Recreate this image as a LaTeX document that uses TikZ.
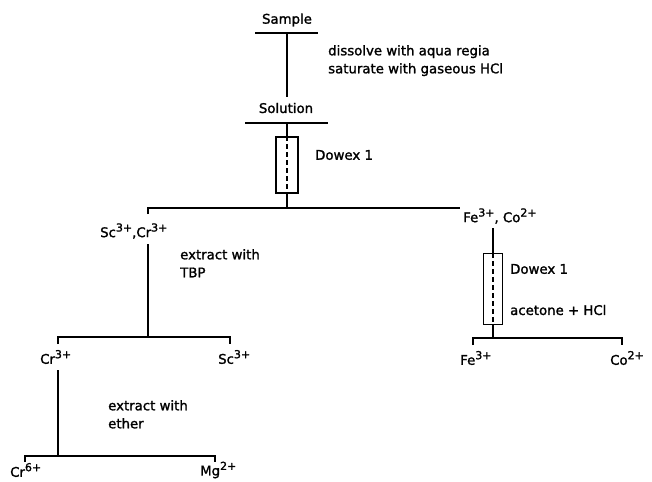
\documentclass[tikz,border=0pt]{standalone}
\usepackage{fontspec}
\setmainfont[FakeBold=1.5]{DejaVu Sans}
\newcommand{\sps}[1]{\raisebox{0.42em}{\fontsize{11}{11}\selectfont #1}}
\begin{document}
\begin{tikzpicture}[x=1pt,y=-1pt,
  ln/.style={line width=1.3pt},
  lbl/.style={font=\fontsize{13.3}{18}\selectfont, inner sep=0pt},
  note/.style={lbl, anchor=north west, align=left},
  col/.style={draw, line width=1.1pt, inner sep=0pt}]
\useasboundingbox (0,0) rectangle (652,481);

% top
\node[lbl] (sample) at (287,20) {Sample};
\coordinate (sL) at (255,33); \coordinate (sR) at (318,33); \coordinate (sM) at (287,33);
\draw[ln] (sL) -- (sR);
\node[note] (n1) at (328,45) {dissolve with aqua regia\\saturate with gaseous HCl};
\node[lbl] (solution) at (286,108) {Solution};
\coordinate (oL) at (245,123); \coordinate (oR) at (328,123); \coordinate (oM) at (287,123);
\draw[ln] (oL) -- (oR);
\coordinate (sB) at (287,97);
\draw[ln] (sM) -- (sB);
\node[col, minimum width=22pt, minimum height=56pt] (col1) at (287,165) {};
\draw[ln, dashed, dash pattern=on 5pt off 3pt] (col1.north) -- (col1.south);
\draw[ln] (oM) -- (col1.north);
\node[lbl, anchor=west] (dw1) at (315,155) {Dowex 1};
\coordinate (j1) at (287,208);
\draw[ln] (col1.south) -- (j1);
\coordinate (j1L) at (148,208); \coordinate (j1R) at (460,208);
\draw[ln] (j1L |- 0,214) -- (j1L) -- (j1R);

% left branch
\node[lbl, anchor=west] (sccr) at (100,231) {Sc\sps{3+},Cr\sps{3+}};
\node[note] (n2) at (180,249) {extract with\\TBP};
\coordinate (v2t) at (148,244); \coordinate (j2) at (148,337);
\draw[ln] (v2t) -- (j2);
\coordinate (j2L) at (58,337); \coordinate (j2R) at (230,337);
\draw[ln] (58,344) -- (j2L) -- (j2R) -- (230,344);
\node[lbl, anchor=west] (cr3) at (40,357) {Cr\sps{3+}};
\node[lbl, anchor=west] (sc3) at (218,357) {Sc\sps{3+}};
\coordinate (v3t) at (58,370); \coordinate (j3) at (58,456);
\draw[ln] (v3t) -- (j3);
\node[note] (n3) at (108,400) {extract with\\ether};
\coordinate (j3L) at (25,456); \coordinate (j3R) at (215,456);
\draw[ln] (25,462) -- (j3L) -- (j3R) -- (215,462);
\node[lbl, anchor=west] (cr6) at (10,470) {Cr\sps{6+}};
\node[lbl, anchor=west] (mg2) at (200,470) {Mg\sps{2+}};

% right branch
\node[lbl, anchor=west] (feco) at (463,216) {Fe\sps{3+}, Co\sps{2+}};
\node[col, minimum width=19pt, minimum height=71pt] (col2) at (493,289) {};
\draw[ln, dashed, dash pattern=on 5pt off 3pt] (col2.north) -- (col2.south);
\coordinate (v4t) at (493,228);
\draw[ln] (v4t) -- (col2.north);
\node[lbl, anchor=west] (dw2) at (510,269) {Dowex 1};
\node[lbl, anchor=west] (ac) at (510,310) {acetone + HCl};
\coordinate (j4) at (493,338);
\draw[ln] (col2.south) -- (j4);
\coordinate (j4L) at (473,338); \coordinate (j4R) at (622,338);
\draw[ln] (473,345) -- (j4L) -- (j4R) -- (622,345);
\node[lbl, anchor=west] (fe3) at (460,358) {Fe\sps{3+}};
\node[lbl, anchor=west] (co2) at (610,358) {Co\sps{2+}};
\end{tikzpicture}
\end{document}
